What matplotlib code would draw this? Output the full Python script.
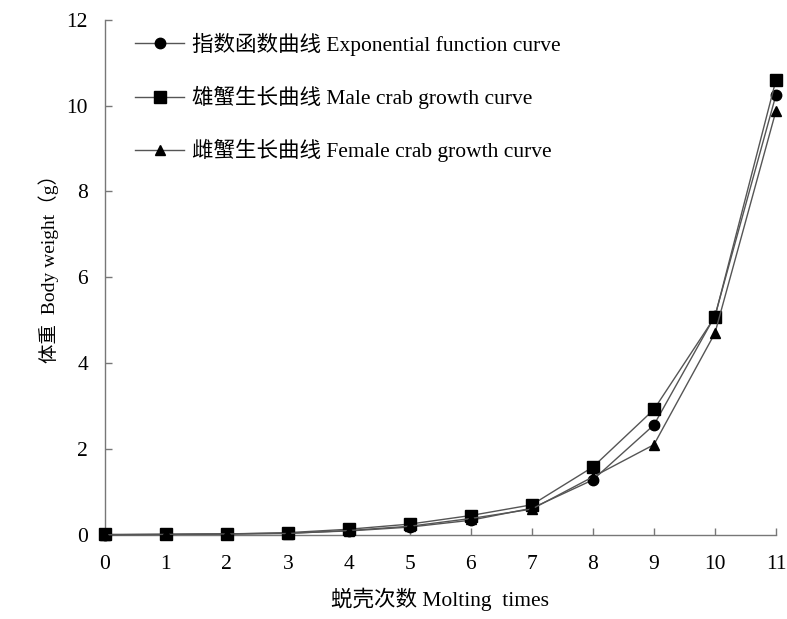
import numpy as np
import matplotlib.pyplot as plt

plt.rcParams['font.family'] = ['Liberation Serif', 'Noto Sans CJK SC']
plt.rcParams['axes.unicode_minus'] = False

# 蜕壳次数
molts = [0, 1, 2, 3, 4, 5, 6, 7, 8, 9, 10, 11]
# 体重 (g)
exp_curve = [0.0, 0.01, 0.02, 0.04, 0.09, 0.18, 0.34, 0.62, 1.28, 2.56, 5.1, 10.25]
male = [0.01, 0.01, 0.02, 0.05, 0.13, 0.25, 0.45, 0.7, 1.58, 2.92, 5.08, 10.6]
female = [0.0, 0.01, 0.02, 0.03, 0.1, 0.2, 0.38, 0.6, 1.35, 2.1, 4.7, 9.88]

labels = ['指数函数曲线 Exponential function curve',
          '雄蟹生长曲线 Male crab growth curve',
          '雌蟹生长曲线 Female crab growth curve']

fs = 15.5
fig = plt.figure(figsize=(7.87, 6.19), dpi=100)
ax = fig.add_axes([0.133, 0.136, 0.853, 0.832])

lc = '#555555'
ax.plot(molts, exp_curve, color=lc, lw=1, marker='o', ms=7.5, mfc='black', mec='black',
        label=labels[0], clip_on=False, zorder=3)
ax.plot(molts, male, color=lc, lw=1, marker='s', ms=9, mfc='black', mec='black',
        label=labels[1], clip_on=False, zorder=3)
ax.plot(molts, female, color=lc, lw=1, marker='^', ms=7.5, mfc='black', mec='black',
        label=labels[2], clip_on=False, zorder=3)

ax.set_xlim(0, 11)
ax.set_ylim(0, 12)
ax.set_xticks(range(0, 12))
ax.set_yticks(range(0, 13, 2))
for s in ['top', 'right']:
    ax.spines[s].set_visible(False)
for s in ['left', 'bottom']:
    ax.spines[s].set_color('#777777')
    ax.spines[s].set_linewidth(1)
ax.tick_params(direction='in', length=5, width=1, color='#777777', labelsize=fs)
ax.tick_params(axis='x', pad=14.5)
ax.tick_params(axis='y', pad=12)

ax.set_xlabel('蜕壳次数 Molting  times', fontsize=fs, labelpad=10)
ax.set_ylabel('体重  Body weight（g）', fontsize=14)
ax.yaxis.set_label_coords(-0.068, 0.525)

leg = ax.legend(loc='upper left', bbox_to_anchor=(0.045, 0.975), frameon=False, fontsize=fs,
                borderpad=0, borderaxespad=0,
                handlelength=2.3, labelspacing=1.4, handletextpad=0.35)

fig.savefig('out.png', dpi=100)
